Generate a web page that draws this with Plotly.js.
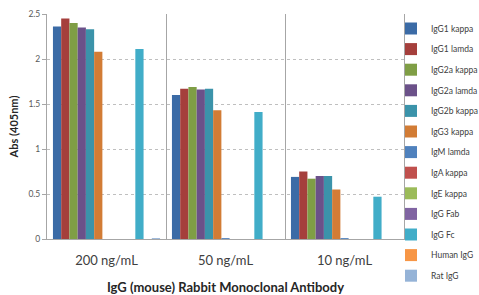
<!DOCTYPE html>
<html><head><meta charset="utf-8">
<script src="https://cdn.plot.ly/plotly-3.0.1.min.js"></script>
<style>html,body{margin:0;padding:0;background:#fff;overflow:hidden;width:479px;height:295px}#chart{width:540px;height:295px}</style>
</head><body><div id="chart"></div>
<script>
const categories = ["200 ng/mL", "50 ng/mL", "10 ng/mL"];
const seriesNames = ["IgG1 kappa","IgG1 lamda","IgG2a kappa","IgG2a lamda","IgG2b kappa","IgG3 kappa","IgM lamda","IgA kappa","IgE kappa","IgG Fab","IgG Fc","Human IgG","Rat IgG"];
const igg1Kappa  = [2.36, 1.60, 0.69];
const igg1Lamda  = [2.45, 1.67, 0.75];
const igg2aKappa = [2.40, 1.69, 0.67];
const igg2aLamda = [2.35, 1.66, 0.70];
const igg2bKappa = [2.33, 1.67, 0.70];
const igg3Kappa  = [2.08, 1.43, 0.55];
const igmLamda   = [0, 0.01, 0.01];
const igaKappa   = [0, 0, 0];
const igeKappa   = [0, 0, 0];
const iggFab     = [0, 0, 0];
const iggFc      = [2.11, 1.41, 0.47];
const humanIgg   = [0, 0, 0];
const ratIgg     = [0.01, 0, 0];
const seriesValues = [igg1Kappa, igg1Lamda, igg2aKappa, igg2aLamda, igg2bKappa, igg3Kappa, igmLamda, igaKappa, igeKappa, iggFab, iggFc, humanIgg, ratIgg];
const colors = ["#3B6BA6","#A53F3C","#7F9E45","#6B5189","#3B93AA","#D27C35","#4F81BD","#C0504D","#9BBB59","#8064A2","#41ADC8","#F79646","#95B3D7"];

const traces = seriesNames.map((n, i) => ({
  type: 'bar', name: n, x: categories, y: seriesValues[i],
  marker: {color: colors[i], line: {width: 0}},
  legendgroup: 'g' + i, hoverinfo: 'y'
}));

const W = 540;
const plotRight = 404;
const layout = {
  width: W, height: 295,
  margin: {l: 47, r: W - plotRight, t: 14, b: 56},
  paper_bgcolor: '#fff', plot_bgcolor: '#fff',
  font: {family: 'Lato, "Open Sans", sans-serif', color: '#404040'},
  barmode: 'group', bargap: 0.1, bargroupgap: 0,
  showlegend: true,
  legend: {x: (391 - 47) / (plotRight - 47), xanchor: 'left', y: 1.0, yanchor: 'top',
           font: {size: 8.5, color: '#404040'}, tracegroupgap: 1.6, maxheight: 400,
           itemwidth: 30, bgcolor: 'rgba(0,0,0,0)', traceorder: 'grouped'},
  xaxis: {
    type: 'category', tickson: 'boundaries', showgrid: true, gridcolor: '#a6a6a6', gridwidth: 1,
    showline: true, linecolor: '#a6a6a6', linewidth: 1, ticks: '', ticklabelstandoff: 9,
    tickfont: {size: 13, color: '#404040'}, automargin: false,
    title: {text: 'IgG (mouse) Rabbit Monoclonal Antibody', font: {size: 13, color: '#262626', weight: 'bold'}, standoff: 16},
    range: [-0.5, 2.5], fixedrange: true
  },
  yaxis: {
    range: [0, 2.5], dtick: 0.5, showgrid: true, gridcolor: '#bfbfbf', griddash: 'dot', gridwidth: 1,
    showline: true, linecolor: '#a6a6a6', linewidth: 1, mirror: true,
    ticks: 'outside', ticklen: 4, tickcolor: '#a6a6a6', automargin: false,
    tickfont: {size: 8.5, color: '#595959'},
    title: {text: 'Abs (405nm)', font: {size: 11, color: '#262626', weight: 'bold'}, standoff: 7},
    zeroline: false, fixedrange: true
  }
};
Plotly.newPlot('chart', traces, layout, {displayModeBar: false, staticPlot: true});
</script></body></html>
